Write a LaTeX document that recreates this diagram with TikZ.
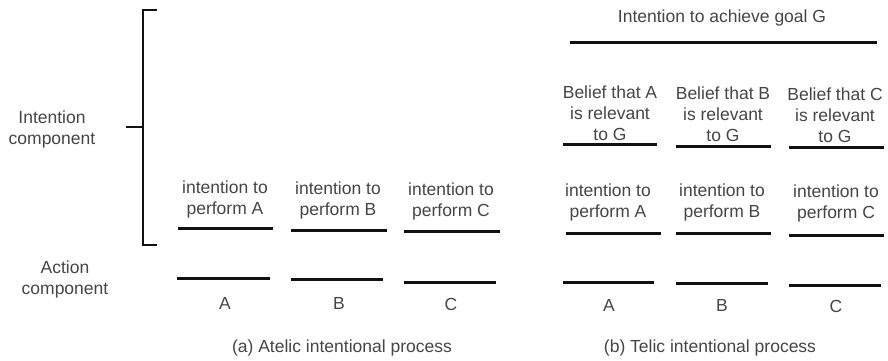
\documentclass[tikz,border=0pt]{standalone}
\usepackage{fontspec}
\setmainfont{Liberation Sans}
\definecolor{txt}{HTML}{454545}
\definecolor{ln}{HTML}{111111}
\begin{document}
\begin{tikzpicture}[x=1pt,y=-1pt,
  lbl/.style={text=txt,font=\fontsize{17.5}{21}\selectfont,align=center,inner sep=0pt},
  bar/.style={draw=ln,line width=3pt},
  brk/.style={draw=ln,line width=1.4pt}]
\useasboundingbox (0,0) rectangle (888,361);
% left bracket
\coordinate (bt) at (157,10);
\coordinate (bb) at (157,245);
\coordinate (bm) at (126,127);
\draw[brk] (bt) -- (143,10) -- (143,245) -- (bb);
\draw[brk] (bm) -- (143,127);
\node[lbl] (ic) at (52,129) {Intention\\component};
\node[lbl] (ac) at (65,279) {Action\\component};
% panel (a)
\node[lbl] (aia) at (225,199) {intention to\\perform A};
\node[lbl] (aib) at (338,200) {intention to\\perform B};
\node[lbl] (aic) at (451,201) {intention to\\perform C};
\draw[bar] (178,228) -- (273,228);
\draw[bar] (291,230) -- (387,230);
\draw[bar] (404,231) -- (500,231);
\draw[bar] (177,278) -- (270,278);
\draw[bar] (291,279) -- (383,279);
\draw[bar] (404,282) -- (496,282);
\node[lbl] (aA) at (225,303) {A};
\node[lbl] (aB) at (339,303) {B};
\node[lbl] (aC) at (451,304) {C};
\node[lbl] (capa) at (342,348) {(a) Atelic intentional process};
% panel (b)
\node[lbl] (goal) at (722,18) {Intention to achieve goal G};
\draw[bar] (570,43) -- (877,43);
\node[lbl] (bbA) at (610,113) {Belief that A\\is relevant\\to G};
\node[lbl] (bbB) at (723,114) {Belief that B\\is relevant\\to G};
\node[lbl] (bbC) at (835,115) {Belief that C\\is relevant\\to G};
\draw[bar] (563,144) -- (657,144);
\draw[bar] (676,146) -- (771,146);
\draw[bar] (789,147) -- (884,147);
\node[lbl] (bia) at (608,202) {intention to\\perform A};
\node[lbl] (bib) at (722,202) {intention to\\perform B};
\node[lbl] (bic) at (836,203) {intention to\\perform C};
\draw[bar] (566,233) -- (661,233);
\draw[bar] (676,233) -- (771,233);
\draw[bar] (789,235) -- (884,235);
\draw[bar] (563,282) -- (654,282);
\draw[bar] (676,283) -- (768,283);
\draw[bar] (789,285) -- (881,285);
\node[lbl] (bA) at (609,305) {A};
\node[lbl] (bB) at (722,305) {B};
\node[lbl] (bC) at (836,306) {C};
\node[lbl] (capb) at (710,348) {(b) Telic intentional process};
\end{tikzpicture}
\end{document}
